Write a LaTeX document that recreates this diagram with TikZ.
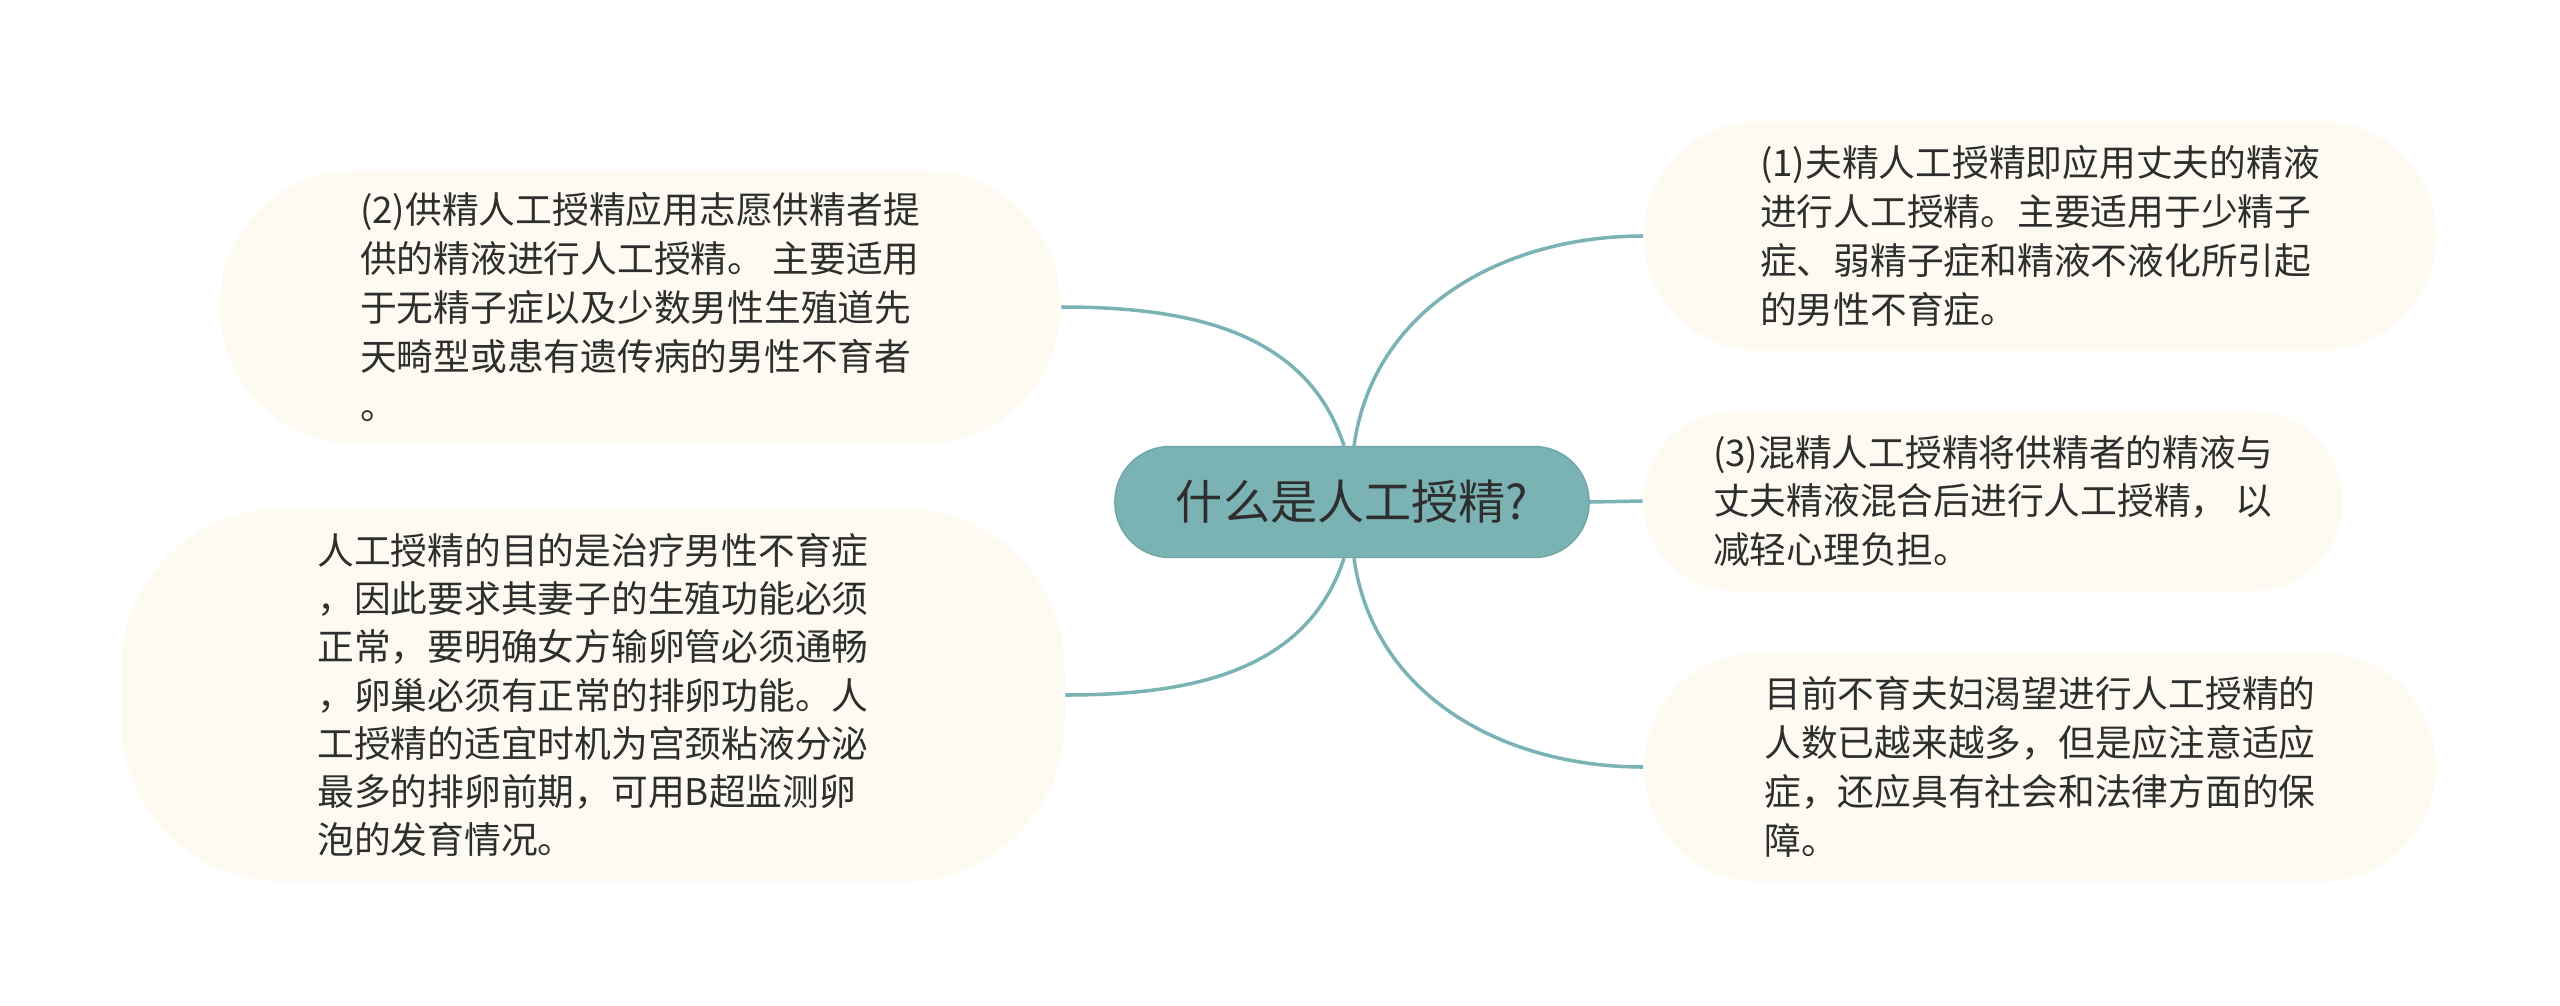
\documentclass[tikz,border=0pt]{standalone}
\usepackage{fontspec}
\setmainfont{Noto Sans CJK SC}
\definecolor{tealline}{HTML}{7BB3B5}
\definecolor{tealedge}{HTML}{6FA7A9}
\definecolor{cream}{HTML}{FDFBF1}
\definecolor{ink}{HTML}{2E2E2E}
\tikzset{
  root/.style={draw=tealedge, fill=tealline, text=ink, inner sep=0pt, rounded corners=0.55cm,
    minimum width=4.74cm, minimum height=1.11cm, font=\fontsize{13.4}{16}\selectfont},
  leaf/.style={fill=cream, text=ink, inner sep=0pt, align=left,
    font=\fontsize{10.45}{13.9}\selectfont},
  branch/.style={draw=tealline, line width=1pt}
}
\begin{document}
\begin{tikzpicture}[x=0.01cm, y=-0.01cm]
				\useasboundingbox (0,0) rectangle (2560,1006);
				\node[root] (Q)at(1352, 502) {什么是人工授精?};
				\node[leaf, minimum width=7.92cm, minimum height=2.29cm, rounded corners=1.14cm] (P1)at(2040, 236) {(1)夫精人工授精即应用丈夫的精液\\进行人工授精。主要适用于少精子\\症、弱精子症和精液不液化所引起\\的男性不育症。};
				\node[leaf, minimum width=8.41cm, minimum height=2.73cm, rounded corners=1.36cm] (P2)at(640, 307) {(2)供精人工授精应用志愿供精者提\\供的精液进行人工授精。 主要适用\\于无精子症以及少数男性生殖道先\\天畸型或患有遗传病的男性不育者\\。};
				\node[leaf, minimum width=6.99cm, minimum height=1.80cm, rounded corners=0.90cm] (P3)at(1993, 501) {(3)混精人工授精将供精者的精液与\\丈夫精液混合后进行人工授精， 以\\减轻心理负担。};
				\node[leaf, minimum width=7.92cm, minimum height=2.29cm, rounded corners=1.14cm] (Now)at(2040, 767) {目前不育夫妇渴望进行人工授精的\\人数已越来越多，但是应注意适应\\症，还应具有社会和法律方面的保\\障。};
				\node[leaf, minimum width=9.43cm, minimum height=3.73cm, rounded corners=1.60cm,
				  font=\fontsize{10.45}{13.7}\selectfont] (Aim)at(593, 695) {人工授精的目的是治疗男性不育症\\，因此要求其妻子的生殖功能必须\\正常，要明确女方输卵管必须通畅\\，卵巢必须有正常的排卵功能。人\\工授精的适宜时机为宫颈粘液分泌\\最多的排卵前期，可用B超监测卵\\泡的发育情况。};
				% branches
				\draw[branch] ([xshift=0.02cm]Q.north) to[out=82, in=180] (P1.west);
				\draw[branch] ([xshift=-0.08cm]Q.north) to[out=108, in=0] (P2.east);
				\draw[branch] (Q.east) -- (P3.west);
				\draw[branch] ([xshift=0.02cm]Q.south) to[out=-82, in=180] (Now.west);
				\draw[branch] ([xshift=-0.08cm]Q.south) to[out=-108, in=0] (Aim.east);
			\end{tikzpicture}
\end{document}
